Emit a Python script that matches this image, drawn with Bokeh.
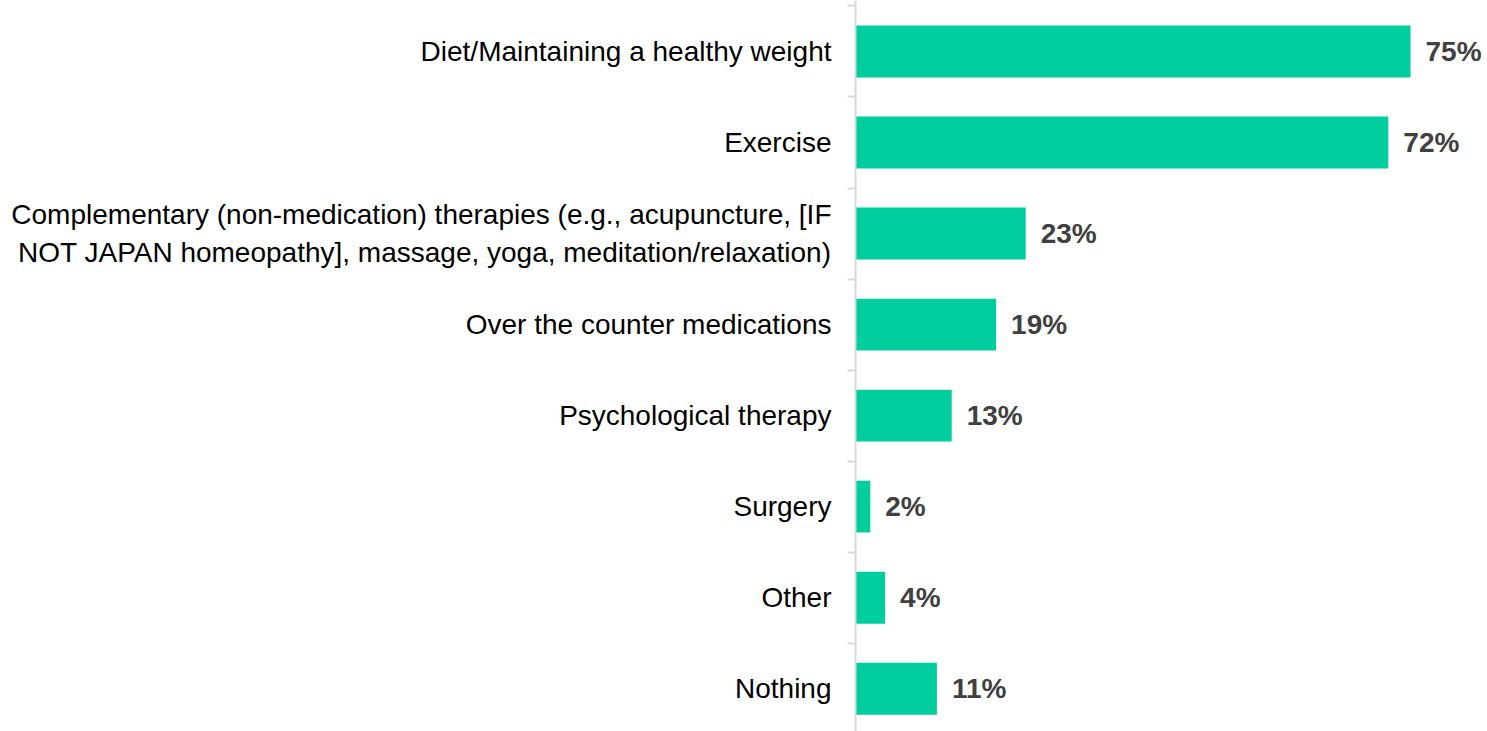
from bokeh.plotting import figure
from bokeh.models import ColumnDataSource, FixedTicker, Range1d
from bokeh.core.properties import value
from bokeh.embed import file_html
from bokeh.resources import INLINE

categories = [
    "Diet/Maintaining a healthy weight",
    "Exercise",
    "Complementary (non-medication) therapies (e.g., acupuncture, [IF\nNOT JAPAN homeopathy], massage, yoga, meditation/relaxation)",
    "Over the counter medications",
    "Psychological therapy",
    "Surgery",
    "Other",
    "Nothing",
]
values = [75, 72, 23, 19, 13, 2, 4, 11]
value_labels = [f"{v}%" for v in values]

n = len(categories)
ypos = [n - i - 0.5 for i in range(n)]

src = ColumnDataSource(dict(y=ypos, v=values, lab=value_labels))

p = figure(width=1487, height=731, output_backend="svg", toolbar_location=None,
           x_range=Range1d(0, 85.4), y_range=Range1d(0.03, 8.06),
           min_border_left=855, min_border_right=0, min_border_top=0, min_border_bottom=0)
p.outline_line_color = None
p.xgrid.visible = False
p.ygrid.visible = False
p.xaxis.visible = False

p.hbar(y="y", right="v", left=0, height=0.57, source=src, color="#00CE9E", line_color=None)
p.text(x="v", y="y", text="lab", source=src, x_offset=15,
       text_font=value("Liberation Sans"), text_font_style="bold", text_font_size="28px",
       text_color="#404040", text_baseline="middle", text_align="left")

ax = p.yaxis[0]
ax.ticker = FixedTicker(ticks=ypos, minor_ticks=list(range(n + 1)))
ax.major_label_overrides = {y: c for y, c in zip(ypos, categories)}
ax.major_tick_out = 0
ax.major_tick_in = 0
ax.minor_tick_out = 8
ax.minor_tick_in = 0
ax.minor_tick_line_color = "#D9D9D9"
ax.minor_tick_line_width = 2
ax.axis_line_color = "#D9D9D9"
ax.axis_line_width = 2
ax.major_label_standoff = 16
ax.major_label_text_font = "Liberation Sans"
ax.major_label_text_font_size = "28px"
ax.major_label_text_color = "#000000"

open("out.html", "w").write(file_html(p, INLINE))
